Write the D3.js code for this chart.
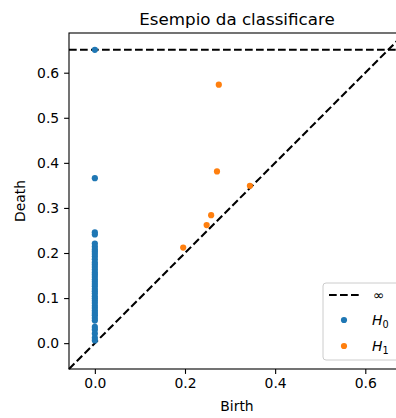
<!DOCTYPE html>
<html>
<head>
<meta charset="utf-8">
<script src="https://cdn.jsdelivr.net/npm/d3@7"></script>
<style>
  html, body { margin: 0; padding: 0; background: #fff; overflow: hidden; }
  text { font-family: "DejaVu Sans", sans-serif; }
</style>
</head>
<body>
<div id="container"></div>
<script>
/***** data *****/
// H0 pairs: every birth is 0, one death is infinite
let h0Birth = [0,0,0,0,0,0,0,0,0,0,0,0,0,0,0,0,0,0,0,0,0,0,0,0,0,0,0,0,0,0,0,0,0,0,0,0,0,0,0,0,0];
let h0Death = [Infinity, 0.366, 0.246, 0.241, 0.221, 0.214, 0.208, 0.203, 0.198, 0.192, 0.186,
               0.179, 0.174, 0.169, 0.163, 0.157, 0.152, 0.147, 0.141, 0.136, 0.131, 0.126,
               0.120, 0.115, 0.110, 0.104, 0.099, 0.094, 0.089, 0.083, 0.078, 0.072, 0.067,
               0.062, 0.056, 0.050, 0.036, 0.030, 0.021, 0.012, 0.006];
let h1Birth = [0.275, 0.271, 0.344, 0.258, 0.248, 0.196];
let h1Death = [0.5734, 0.381, 0.349, 0.284, 0.262, 0.212];

let xTicks = [0.0, 0.2, 0.4, 0.6];
let yTicks = [0.0, 0.1, 0.2, 0.3, 0.4, 0.5, 0.6];

let titleText = "Esempio da classificare";
let xLabel = "Birth";
let yLabel = "Death";

/***** layout *****/
var W = 396, H = 418;
var pLeft = 69, pTop = 33, pRight = 405, pBottom = 369;
var blue = "#1f77b4", orange = "#ff7f0e";

// bounds like persim's plot_diagrams
let finite = h0Birth.concat(h0Death, h1Birth, h1Death).filter(isFinite);
let axMin = d3.min(finite), axMax = d3.max(finite);
let buffer = (axMax - axMin) / 5;
let xDown = axMin - buffer / 2, xUp = axMax + buffer;
let bInf = xDown + (xUp - xDown) * 0.95;

let svg = d3.select("#container")
  .append("svg")
    .attr("width", W)
    .attr("height", H);

var x = d3.scaleLinear().domain([xDown, xUp]).range([pLeft, pRight]);
var y = d3.scaleLinear().domain([xDown, xUp]).range([pBottom, pTop]);

// diagonal and infinity line
let dash = "7.7,3.3";
svg.append("line")
  .attr("x1", x(xDown)).attr("y1", y(xDown))
  .attr("x2", x(xUp)).attr("y2", y(xUp))
  .attr("stroke", "#000").attr("stroke-width", 2.08)
  .attr("stroke-dasharray", dash);
svg.append("line")
  .attr("x1", x(xDown)).attr("y1", y(bInf))
  .attr("x2", x(xUp)).attr("y2", y(bInf))
  .attr("stroke", "#000").attr("stroke-width", 2.08)
  .attr("stroke-dasharray", dash);

// points
let h0 = h0Birth.map((b, i) => ({b: b, d: isFinite(h0Death[i]) ? h0Death[i] : bInf}));
let h1 = h1Birth.map((b, i) => ({b: b, d: h1Death[i]}));

svg.append("g").selectAll("circle")
  .data(h0).join("circle")
    .attr("cx", d => x(d.b))
    .attr("cy", d => y(d.d))
    .attr("r", 3.1)
    .attr("fill", blue);
svg.append("g").selectAll("circle")
  .data(h1).join("circle")
    .attr("cx", d => x(d.b))
    .attr("cy", d => y(d.d))
    .attr("r", 3.1)
    .attr("fill", orange);

// axes
let xAxis = svg.append("g")
  .attr("transform", "translate(0," + pBottom + ")")
  .call(d3.axisBottom(x).tickValues(xTicks).tickFormat(d3.format(".1f"))
        .tickSize(4.9).tickPadding(4.2));
let yAxis = svg.append("g")
  .attr("transform", "translate(" + pLeft + ",0)")
  .call(d3.axisLeft(y).tickValues(yTicks).tickFormat(d3.format(".1f"))
        .tickSize(4.9).tickPadding(4.9));
[xAxis, yAxis].forEach(a => {
  a.select(".domain").remove();
  a.selectAll("line").attr("stroke", "#000").attr("stroke-width", 1.1);
  a.selectAll("text").attr("font-size", "13.9px").attr("fill", "#000")
    .style("font-family", "DejaVu Sans");
});

// spines
svg.append("rect")
  .attr("x", pLeft).attr("y", pTop)
  .attr("width", pRight - pLeft).attr("height", pBottom - pTop)
  .attr("fill", "none").attr("stroke", "#000").attr("stroke-width", 1.1);

// title and labels
svg.append("text")
  .attr("x", (pLeft + pRight) / 2).attr("y", 25)
  .attr("text-anchor", "middle").attr("font-size", "16.7px")
  .text(titleText);
svg.append("text")
  .attr("x", (pLeft + pRight) / 2).attr("y", 411)
  .attr("text-anchor", "middle").attr("font-size", "13.9px")
  .text(xLabel);
svg.append("text")
  .attr("transform", "translate(25," + ((pTop + pBottom) / 2) + ") rotate(-90)")
  .attr("text-anchor", "middle").attr("font-size", "13.9px")
  .text(yLabel);

// legend
let lg = svg.append("g").attr("transform", "translate(323,283)");
lg.append("rect")
  .attr("width", 77).attr("height", 77).attr("rx", 3)
  .attr("fill", "#fff").attr("fill-opacity", 0.8)
  .attr("stroke", "#ccc").attr("stroke-width", 1);
lg.append("line")
  .attr("x1", 6).attr("x2", 37).attr("y1", 12).attr("y2", 12)
  .attr("stroke", "#000").attr("stroke-width", 2.08)
  .attr("stroke-dasharray", dash);
lg.append("text")
  .attr("x", 50).attr("y", 12).attr("dy", "0.35em")
  .attr("font-size", "13.9px").text("∞");
let legendRows = [{c: blue, sub: "0", y: 37}, {c: orange, sub: "1", y: 63}];
legendRows.forEach(r => {
  lg.append("circle").attr("cx", 21).attr("cy", r.y).attr("r", 3.1).attr("fill", r.c);
  let t = lg.append("text")
    .attr("x", 49).attr("y", r.y).attr("dy", "0.35em")
    .attr("font-size", "13.9px");
  t.append("tspan").attr("font-style", "italic").text("H");
  t.append("tspan").attr("font-size", "9.7px").attr("dy", "3").text(r.sub);
});
</script>
</body>
</html>
